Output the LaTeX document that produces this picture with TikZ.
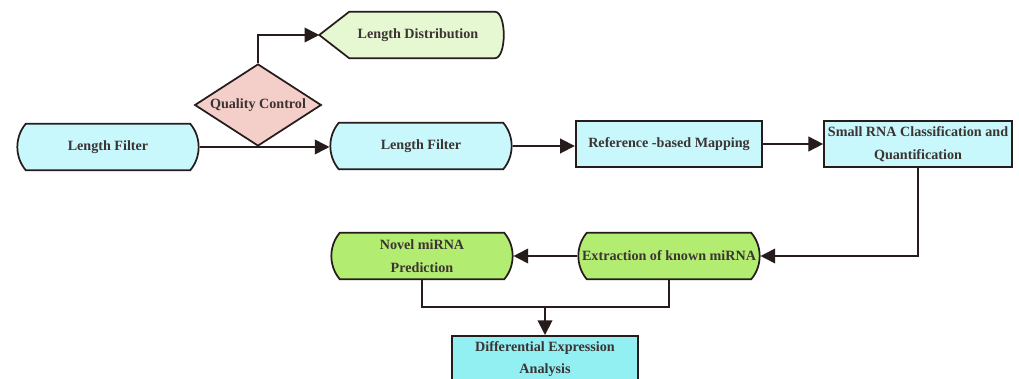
\documentclass[tikz,border=0pt]{standalone}
\usepackage{fontspec}
\setmainfont{Liberation Serif}
\usetikzlibrary{positioning, arrows.meta, shapes, calc}
\definecolor{paleblue}{RGB}{200,248,252}
\definecolor{aquabox}{RGB}{146,240,242}
\definecolor{leafgreen}{RGB}{178,236,112}
\definecolor{palegreen}{RGB}{230,248,210}
\definecolor{palepink}{RGB}{244,206,200}
\definecolor{inkline}{RGB}{38,28,28}
\tikzstyle{stepfont} = [font=\fontsize{10.6}{17}\selectfont\bfseries, text=inkline!90, align=center]
\tikzstyle{pillbox} = [stepfont, draw=inkline, line width=1.3pt, rounded rectangle, rounded rectangle arc length=80, minimum width=140pt, minimum height=35pt, inner sep=2pt]
\tikzstyle{flatbox} = [stepfont, draw=inkline, line width=1.3pt, rectangle, minimum width=140pt, minimum height=35pt, inner sep=2pt]
\tikzstyle{flowarrow} = [draw=inkline, line width=1.3pt, -{Triangle[length=11pt,width=11pt]}]
\tikzstyle{flowline} = [draw=inkline, line width=1.3pt]

\begin{document}
\begin{tikzpicture}[x=0.75pt, y=-0.75pt]
      \fill[white] (0,0) rectangle (1019,378);
      \useasboundingbox (0,0) rectangle (1019,378);
      \clip (0,0) rectangle (1019,378);

      \node[pillbox, fill=paleblue] (filterA) at (108,147) {Length Filter};
      \node[stepfont, draw=inkline, line width=1.3pt, fill=palepink, diamond, aspect=1.55, inner sep=0pt, minimum width=95pt, minimum height=61.5pt] (quality) at (258,105) {Quality Control};
      \node[stepfont, minimum width=138.75pt, minimum height=34.5pt, inner sep=0pt] (lendist) at (412,35) {};
      \filldraw[draw=inkline, fill=palegreen, line width=1.3pt]
        (lendist.west) -- ($(lendist.north west)+(30,0)$) -- ($(lendist.north east)+(-10,0)$)
        .. controls ($(lendist.north east)+(2,0)$) and ($(lendist.south east)+(2,0)$) .. ($(lendist.south east)+(-10,0)$)
        -- ($(lendist.south west)+(30,0)$) -- cycle;
      \node[stepfont] at ($(lendist.center)+(6,0)$) {Length Distribution};
      \node[pillbox, fill=paleblue] (filterB) at (421,146) {Length Filter};
      \node[flatbox, fill=paleblue] (mapping) at (669,144) {Reference -based Mapping};
      \node[flatbox, fill=paleblue, minimum width=141pt] (classify) at (918,144) {Small RNA Classification and\\Quantification};
      \node[pillbox, fill=leafgreen] (known) at (669,256) {Extraction of known miRNA};
      \node[pillbox, fill=leafgreen] (novel) at (422,256) {Novel miRNA\\Prediction};
      \node[flatbox, fill=aquabox, anchor=north] (diffexp) at (545,335) {Differential Expression\\Analysis};
      \coordinate (merge) at (545,307);

      \draw[flowarrow] (filterA.east) -- (filterA.east -| filterB.west);
      \draw[flowarrow] (quality.north) |- (lendist.west);
      \draw[flowarrow] (filterB.east) -- (filterB.east -| mapping.west);
      \draw[flowarrow] (mapping.east) -- (mapping.east -| classify.west);
      \draw[flowarrow] (classify.south) |- (known.east);
      \draw[flowarrow] (known.west) -- (known.west -| novel.east);
      \draw[flowline] (novel.south) |- (merge) -| (known.south);
      \draw[flowarrow] (merge) -- (diffexp.north);
      % \draw[help lines] (0,0) grid[step=50] (1019,378);
\end{tikzpicture}
\end{document}
